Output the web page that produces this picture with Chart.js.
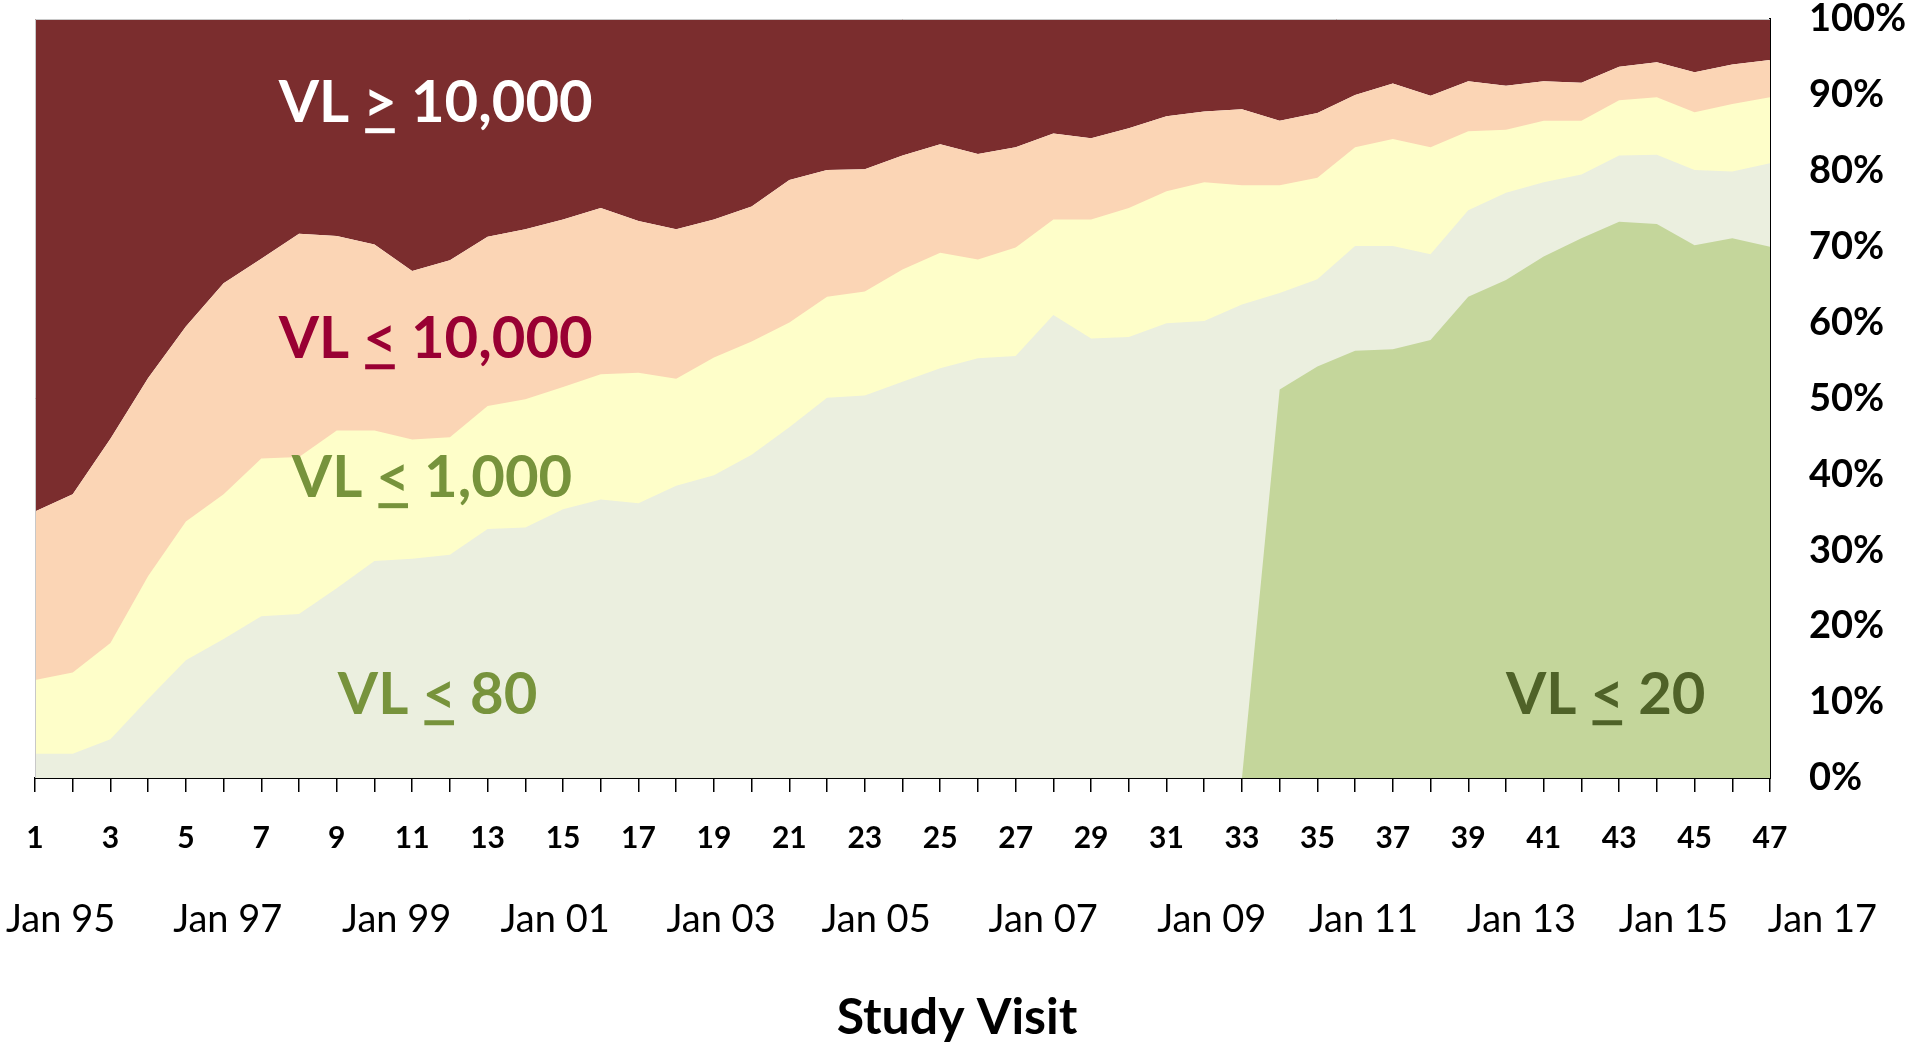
<!DOCTYPE html>
<html>
<head>
<meta charset="utf-8">
<script src="https://cdn.jsdelivr.net/npm/chart.js@4.4.1/dist/chart.umd.min.js"></script>
<style>
  html, body { margin: 0; padding: 0; background: #fff; }
  #wrap { position: relative; width: 1907px; height: 1046px; }
</style>
</head>
<body>
<div id="wrap"><canvas id="vlChart"></canvas></div>
<script>
// study visits (x categories)
const visits = ['1','2','3','4','5','6','7','8','9','10','11','12','13','14','15','16',
  '17','18','19','20','21','22','23','24','25','26','27','28','29','30','31','32',
  '33','34','35','36','37','38','39','40','41','42','43','44','45','46','47'];

// cumulative % of participants at or below each viral load threshold
const le20 = [0,0,0,0,0,0,0,0,0,0,0,0,0,0,0,0,0,0,0,0,0,0,0,0,0,0,0,0,0,0,0,0,
  0,51.2,54.2,56.3,56.5,57.7,63.4,65.6,68.7,71.1,73.3,73.0,70.2,71.1,70.0];
const le80 = [3.2,3.2,5.1,10.4,15.5,18.3,21.3,21.6,25.0,28.6,28.9,29.4,32.8,33.0,35.4,36.7,
  36.2,38.5,39.9,42.6,46.2,50.1,50.4,52.2,54.0,55.3,55.6,61.0,57.9,58.1,59.9,60.2,
  62.4,63.9,65.7,70.1,70.1,69.0,74.8,77.1,78.5,79.5,82.0,82.1,80.1,79.9,81.0];
const le1000 = [12.9,13.9,17.8,26.6,33.8,37.4,42.1,42.3,45.8,45.8,44.6,44.9,49.0,49.9,51.5,53.2,
  53.4,52.6,55.4,57.5,60.0,63.4,64.1,67.0,69.2,68.3,69.9,73.6,73.6,75.1,77.3,78.5,
  78.1,78.1,79.1,83.1,84.2,83.1,85.2,85.4,86.6,86.6,89.3,89.7,87.7,88.8,89.7];
const lt10000 = [35.1,37.4,44.7,52.7,59.5,65.2,68.4,71.7,71.4,70.3,66.8,68.2,71.3,72.3,73.6,75.1,
  73.4,72.3,73.6,75.3,78.8,80.1,80.2,82.0,83.5,82.2,83.1,84.9,84.3,85.6,87.2,87.8,
  88.1,86.6,87.6,90.0,91.5,89.9,91.8,91.2,91.8,91.6,93.7,94.3,93.0,94.0,94.6];

// right axis ticks
const yTicks = [0, 10, 20, 30, 40, 50, 60, 70, 80, 90, 100];

// calendar dates under the visit numbers (visit number where each January falls)
const dateLabels = ['Jan 95','Jan 97','Jan 99','Jan 01','Jan 03','Jan 05',
  'Jan 07','Jan 09','Jan 11','Jan 13','Jan 15','Jan 17'];
const dateVisit = [1.68, 6.11, 10.59, 14.79, 19.19, 23.3, 27.73, 32.2, 36.22, 40.41, 44.44, 48.39];

const FONT = "Lato, 'Open Sans', sans-serif";

// in-chart band labels: [before, sign, after, colour, visit, pct]
const bandLabels = [
  ['VL ', '>', ' 10,000', '#ffffff', 7.46, 86.4],
  ['VL ', '<', ' 10,000', '#990033', 7.46, 55.3],
  ['VL ', '<', ' 1,000', '#77933c', 7.81, 37.0],
  ['VL ', '<', ' 80', '#77933c', 9.03, 8.4],
  ['VL ', '<', ' 20', '#4f6228', 40.0, 8.4]
];

const extras = {
  id: 'extras',
  afterDatasetsDraw(chart) {
    const ctx = chart.ctx, x = chart.scales.x, y = chart.scales.y;
    const a = chart.chartArea;
    ctx.save();
    // faint plot frame on top/left
    ctx.strokeStyle = '#c8c8c8';
    ctx.lineWidth = 1;
    ctx.beginPath();
    ctx.moveTo(a.left + 0.5, a.bottom);
    ctx.lineTo(a.left + 0.5, a.top + 0.5);
    ctx.lineTo(a.right, a.top + 0.5);
    ctx.stroke();

    ctx.font = 'bold 58px ' + FONT;
    ctx.textBaseline = 'alphabetic';
    ctx.textAlign = 'left';
    bandLabels.forEach(l => {
      let px = x.getPixelForValue(l[4] - 1);
      const py = y.getPixelForValue(l[5]);
      ctx.fillStyle = l[3];
      ctx.fillText(l[0], px, py);
      px += ctx.measureText(l[0]).width;
      const w = ctx.measureText(l[1]).width;
      ctx.fillText(l[1], px, py);
      ctx.fillRect(px + 2, py + 6, w - 4, 5);
      px += w;
      ctx.fillText(l[2], px, py);
    });

    // date row
    ctx.fillStyle = '#000';
    ctx.font = '38px ' + FONT;
    ctx.textAlign = 'center';
    dateLabels.forEach((d, i) => {
      ctx.fillText(d, x.getPixelForValue(dateVisit[i] - 1), 932);
    });

    // axis title
    ctx.font = 'bold 50px ' + FONT;
    ctx.fillText('Study Visit', 957, 1034);
    ctx.restore();
  }
};

const ds = (label, data, color, fill) => ({
  label, data, fill,
  backgroundColor: color,
  borderWidth: 0,
  pointRadius: 0,
  tension: 0
});

new Chart(document.getElementById('vlChart'), {
  type: 'line',
  data: {
    labels: visits,
    datasets: [
      ds('VL <= 20', le20, '#c4d69b', 'origin'),
      ds('VL <= 80', le80, '#ebefdf', 'origin'),
      ds('VL <= 1,000', le1000, '#fefec9', 'origin'),
      ds('VL <= 10,000', lt10000, '#fbd5b5', 'origin'),
      ds('VL >= 10,000', lt10000, '#7b2d2e', 'end')
    ]
  },
  options: {
    responsive: true,
    maintainAspectRatio: false,
    animation: false,
    layout: { padding: { left: 35, top: 19, right: 0, bottom: 0 } },
    plugins: { legend: { display: false }, tooltip: { enabled: false } },
    scales: {
      x: {
        grid: { drawOnChartArea: false, drawTicks: true, tickLength: 14, color: '#000', lineWidth: 1.5 },
        border: { display: true, color: '#000', width: 2 },
        ticks: {
          autoSkip: false, maxRotation: 0, padding: 28, color: '#000',
          font: { family: FONT, size: 30, weight: 'bold' },
          callback: (v, i) => (i % 2 === 0 ? visits[i] : '')
        },
        afterFit: s => { s.height = 268; s.paddingLeft = 0; s.paddingRight = 0; }
      },
      y: {
        position: 'right',
        min: 0, max: 100,
        afterBuildTicks: s => { s.ticks = yTicks.map(v => ({ value: v })); },
        grid: { display: false, drawTicks: false },
        border: { display: true, color: '#000', width: 2 },
        ticks: {
          padding: 39, color: '#000',
          font: { family: FONT, size: 38, weight: 'bold' },
          callback: v => v + '%'
        },
        afterFit: s => { s.width = 137; s.paddingTop = 0; s.paddingBottom = 0; }
      }
    }
  },
  plugins: [extras]
});
</script>
</body>
</html>
